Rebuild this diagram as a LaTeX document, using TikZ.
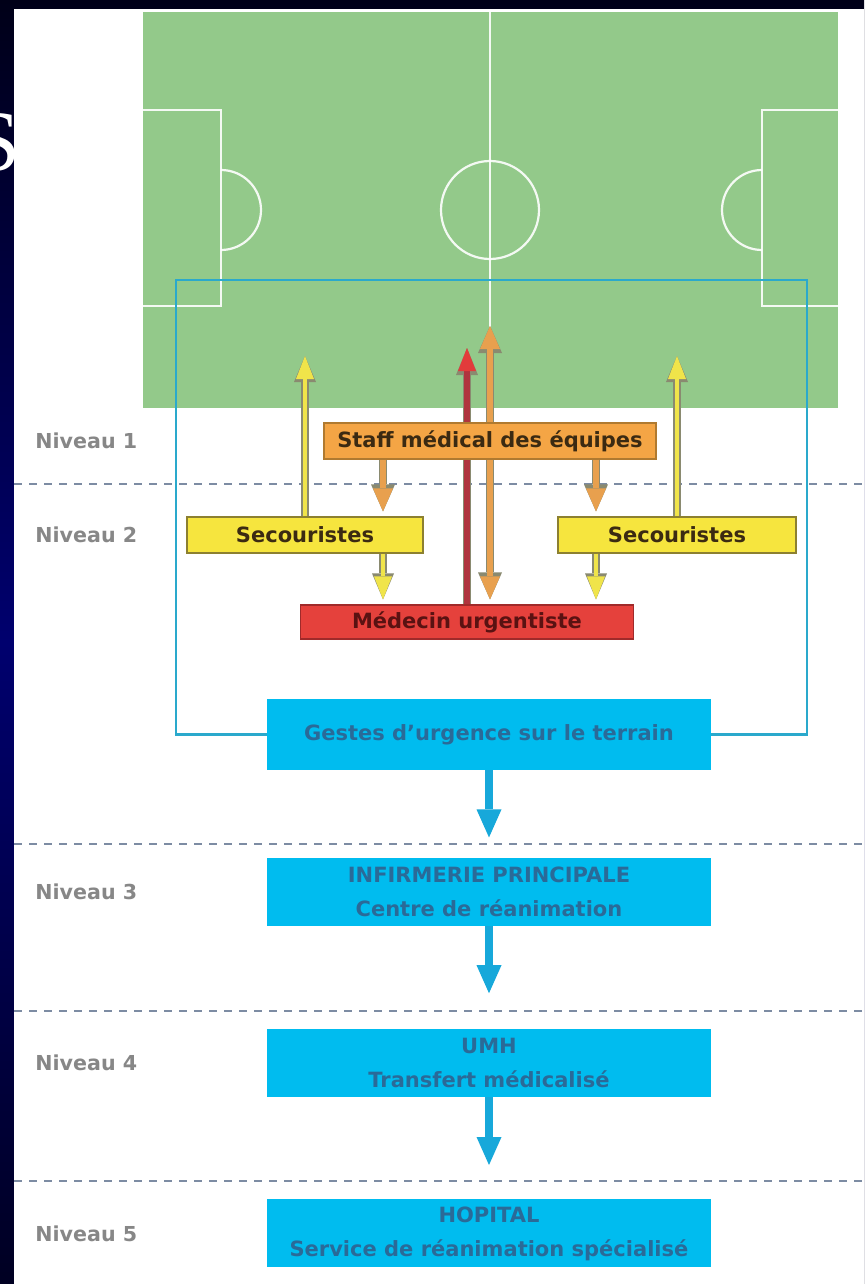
\documentclass[tikz,border=0pt]{standalone}
\usepackage{fontspec}
\setmainfont{DejaVu Sans}
\newfontfamily\titrefont{Liberation Serif}
\usetikzlibrary{arrows.meta, positioning}

\definecolor{fondhaut}{HTML}{000018}
\definecolor{fondmilieu}{HTML}{00006E}
\definecolor{fondbas}{HTML}{000022}
\definecolor{terrain}{HTML}{93C98A}
\definecolor{contourbleu}{HTML}{2AA9CC}
\definecolor{orangeB}{HTML}{F4A545}
\definecolor{orangeC}{HTML}{B07A30}
\definecolor{orangeF}{HTML}{E8A04E}
\definecolor{brunT}{HTML}{3B2A12}
\definecolor{jauneB}{HTML}{F6E53E}
\definecolor{jauneC}{HTML}{8C8030}
\definecolor{jauneF}{HTML}{F0E44A}
\definecolor{rougeB}{HTML}{E5413C}
\definecolor{rougeC}{HTML}{A02A2A}
\definecolor{rougeF}{HTML}{E23B3B}
\definecolor{rougeT}{HTML}{B0343E}
\definecolor{rougeTxt}{HTML}{5A1212}
\definecolor{cyanB}{HTML}{00BCEF}
\definecolor{cyanF}{HTML}{17A8DA}
\definecolor{cyanT}{HTML}{2A6A98}
\definecolor{tirets}{HTML}{7D8CA3}
\definecolor{niveauT}{HTML}{878787}
\definecolor{bordfleche}{HTML}{8A8A70}

\tikzset{
  ligne/.style={draw=white, opacity=0.9, line width=1.1pt},
  contour/.style={draw=contourbleu, line width=1.25pt},
  pointille/.style={draw=tirets, line width=0.75pt, dash pattern=on 4pt off 3.5pt},
  niveau/.style={anchor=west, inner sep=0pt, text=niveauT, font=\fontsize{10.3}{12}\selectfont\bfseries},
  boite/.style={inner sep=0pt, line width=0.6pt, minimum height=18pt, font=\fontsize{10.5}{13}\selectfont\bfseries},
  boiteorange/.style={boite, fill=orangeB, draw=orangeC, text=brunT, minimum width=166pt},
  boitejaune/.style={boite, fill=jauneB, draw=jauneC, text=brunT},
  boiterouge/.style={boite, fill=rougeB, draw=rougeC, text=rougeTxt, minimum width=166.5pt, minimum height=17pt},
  boitebleue/.style={inner sep=0pt, fill=cyanB, text=cyanT, minimum width=222pt, minimum height=34pt, align=center, font=\fontsize{10.5}{17}\selectfont\bfseries},
  flechejaune/.style={preaction={draw=bordfleche, line width=3.6pt, -{Triangle[width=11pt,length=13pt,line width=0pt]}}, draw=jauneF, line width=2.4pt, -{Triangle[width=9pt,length=11.5pt,line width=0pt]}},
  flecheorange/.style={preaction={draw=bordfleche, line width=3.8pt, -{Triangle[width=12pt,length=13.5pt,line width=0pt]}}, draw=orangeF, line width=2.6pt, -{Triangle[width=10pt,length=11.5pt,line width=0pt]}},
  flecheorangeD/.style={preaction={draw=bordfleche, line width=3.8pt, {Triangle[width=12pt,length=13.5pt,line width=0pt]}-{Triangle[width=12pt,length=13.5pt,line width=0pt]}}, draw=orangeF, line width=2.6pt, {Triangle[width=10pt,length=11.5pt,line width=0pt]}-{Triangle[width=10pt,length=11.5pt,line width=0pt]}},
  flecherouge/.style={preaction={draw=bordfleche, line width=3.6pt, -{Triangle[width=11pt,length=13.5pt,line width=0pt]}}, draw=rougeT, line width=2.6pt, -{Triangle[width=9pt,length=11.5pt,line width=0pt,color=rougeF]}},
  flechebleue/.style={draw=cyanF, line width=4pt, -{Triangle[width=12.5pt,length=14pt,line width=0pt]}}
}

\begin{document}
\begin{tikzpicture}[x=0.5pt,y=-0.5pt]
\useasboundingbox (0,0) rectangle (864,1284);
\shade[top color=fondhaut, bottom color=fondbas, middle color=fondmilieu] (0,0) rectangle (864,1284);
\fill[white] (14,9) rectangle (864,1284);
\node[anchor=base east, inner sep=0pt, text=white, font=\titrefont\fontsize{43}{43}\selectfont] (titre) at (21,170) {S};

\draw[pointille] (14,484) -- (864,484);
\draw[pointille] (14,844) -- (864,844);
\draw[pointille] (14,1011) -- (864,1011);
\draw[pointille] (14,1181) -- (864,1181);

\fill[terrain] (143,12) rectangle (838,408);
\draw[ligne] (490,12) -- (490,408);
\draw[ligne] (490,210) circle (24.5pt);
\draw[ligne] (143,110) -- (221,110) -- (221,306) -- (143,306);
\draw[ligne] (838,110) -- (762,110) -- (762,306) -- (838,306);
\draw[ligne] (221,250) arc[start angle=-90, end angle=90, radius=20pt];
\draw[ligne] (762,170) arc[start angle=90, end angle=270, radius=20pt];

\node[boitejaune, minimum width=118pt] (secG) at (305,535) {Secouristes};
\node[boitejaune, minimum width=119pt] (secD) at (677,535) {Secouristes};
\node[boiterouge] (medecin) at (467,622) {Médecin urgentiste};
\node[boitebleue, minimum height=35.5pt] (gestes) at (489,734.5) {Gestes d'urgence sur le terrain};
\node[boitebleue, below=43.5pt of gestes] (infirmerie) {INFIRMERIE PRINCIPALE\\Centre de réanimation};
\node[boitebleue, below=51pt of infirmerie] (umh) {UMH\\Transfert médicalisé};
\node[boitebleue, below=51pt of umh] (hopital) {HOPITAL\\Service de réanimation spécialisé};

\coordinate (gauche) at (35,0);
\node[niveau] (n2) at (gauche |- secG) {Niveau 2};
\node[niveau] (n3) at (gauche |- infirmerie) {Niveau 3};
\node[niveau] (n4) at (gauche |- umh) {Niveau 4};
\node[niveau] (n5) at (gauche |- hopital) {Niveau 5};

\coordinate (cA) at (176,280);
\coordinate (cB) at (807,280);
\draw[contour] (gestes.west) -| (cA) -- (cB) |- (gestes.east);

\coordinate (xg) at (383,0);
\coordinate (xd) at (596,0);
\coordinate (hG) at (305,356);
\coordinate (hD) at (677,356);
\coordinate (hR) at (467,348);
\coordinate (hO) at (490,326);
\draw[flechejaune] (secG.north) -- (hG);
\draw[flechejaune] (secD.north) -- (hD);
\draw[flecherouge] (medecin.north) -- (hR);
\draw[flecheorangeD, shorten >=2.5pt] (hO) -- (medecin.north -| hO);

\node[boiteorange] (staff) at (490,441) {Staff médical des équipes};
\node[niveau] (n1) at (gauche |- staff) {Niveau 1};
\draw[flecheorange, shorten >=2.5pt] (staff.south -| xg) -- (secG.north -| xg);
\draw[flecheorange, shorten >=2.5pt] (staff.south -| xd) -- (secD.north -| xd);
\draw[flechejaune, shorten >=2.5pt] (secG.south -| xg) -- (medecin.north -| xg);
\draw[flechejaune, shorten >=2.5pt] (secD.south -| xd) -- (medecin.north -| xd);

\draw[flechebleue, shorten >=10pt] (gestes) -- (infirmerie);
\draw[flechebleue, shorten >=17.5pt] (infirmerie) -- (umh);
\draw[flechebleue, shorten >=17pt] (umh) -- (hopital);
\end{tikzpicture}
\end{document}
